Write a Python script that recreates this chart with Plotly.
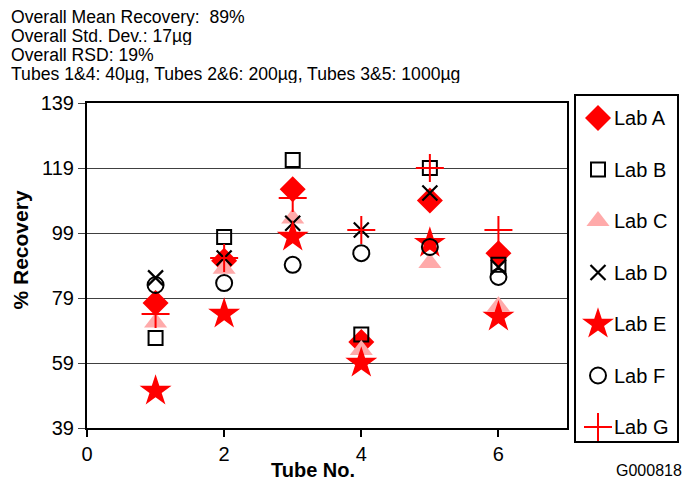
import plotly.graph_objects as go

tubes = [1, 2, 3, 4, 5, 6]
lab_a = [77.5, 90.5, 112.5, 65.5, 109.0, 92.8]
lab_b = [66.7, 97.8, 121.5, 67.8, 119.0, 89.2]
lab_c = [71.5, 88.0, 103.5, 63.0, 89.8, 76.5]
lab_d = [85.2, 91.3, 102.0, 99.9, 111.3, 88.5]
lab_e = [50.4, 74.1, 97.8, 59.0, 95.9, 73.2]
lab_f = [83.0, 83.6, 89.2, 92.8, 94.7, 85.5]
lab_g = [74.1, 91.3, 109.8, 99.9, 119.0, 99.9]
lab_names = ["Lab A", "Lab B", "Lab C", "Lab D", "Lab E", "Lab F", "Lab G"]
y_ticks = [39, 59, 79, 99, 119, 139]
x_ticks = [0, 2, 4, 6]
header_lines = [
    "Overall Mean Recovery:  89%",
    "Overall Std. Dev.: 17\u00b5g",
    "Overall RSD: 19%",
    "Tubes 1&4: 40\u00b5g, Tubes 2&6: 200\u00b5g, Tubes 3&5: 1000\u00b5g",
]

styles = [
    dict(symbol="diamond", size=20, color="#FF0000", line=dict(width=0)),
    dict(symbol="square-open", size=14, color="black", line=dict(width=2, color="black")),
    dict(symbol="triangle-up", size=20, color="#FFAAAA", line=dict(width=0)),
    dict(symbol="x-thin-open", size=15, color="black", line=dict(width=2.2, color="black")),
    dict(symbol="star", size=24, color="#FF0000", line=dict(width=0)),
    dict(symbol="circle-open", size=16, color="black", line=dict(width=2, color="black")),
    dict(symbol="cross-thin-open", size=20, color="#FF0000", line=dict(width=2, color="#FF0000")),
]
series = [lab_a, lab_b, lab_c, lab_d, lab_e, lab_f, lab_g]

# page geometry (pixels)
W, H = 694, 486
L, R, T, B = 87, 10, 103, 58
PW, PH = W - L - R, H - T - B
PLOT_RIGHT = 567
LEG_L, LEG_R, LEG_T, LEG_B = 575, 678, 95, 442
ROW0, ROW_STEP = 118, 51.5
KEY_X, TXT_X = 598, 612

def px_x(p):
    return (p - L) / PW

def px_y(p):
    return 1 - (p - T) / PH

fig = go.Figure()
for name, vals, st in zip(lab_names, series, styles):
    fig.add_trace(go.Scatter(
        x=tubes, y=vals, mode="markers", name=name,
        marker=st, cliponaxis=False, showlegend=False,
        xaxis="x", yaxis="y",
    ))

# legend built on an auxiliary axis pair (row index -> vertical position)
leg_w = LEG_R - LEG_L
for i, (name, st) in enumerate(zip(lab_names, styles)):
    fig.add_trace(go.Scatter(
        x=[(KEY_X - LEG_L) / leg_w], y=[i], mode="markers", name=name,
        marker=st, cliponaxis=False, showlegend=False, hoverinfo="skip",
        xaxis="x2", yaxis="y2",
    ))
    fig.add_annotation(
        text=name, xref="x2", yref="y2",
        x=(TXT_X - LEG_L) / leg_w, y=i, xanchor="left", yanchor="middle",
        showarrow=False, font=dict(size=20),
    )

fig.add_shape(
    type="rect", xref="paper", yref="paper",
    x0=px_x(LEG_L), x1=px_x(LEG_R), y0=px_y(LEG_B), y1=px_y(LEG_T),
    line=dict(color="black", width=2), fillcolor="rgba(0,0,0,0)", layer="below",
)

fig.update_layout(
    width=W, height=H,
    margin=dict(l=L, r=R, t=T, b=B, autoexpand=False),
    paper_bgcolor="white", plot_bgcolor="white",
    font=dict(family="Liberation Sans, Arial, sans-serif", color="black"),
    showlegend=False,
    xaxis=dict(
        domain=[0, px_x(PLOT_RIGHT)],
        range=[0, 7], tickvals=x_ticks, ticktext=[str(v) for v in x_ticks],
        showgrid=False, zeroline=False,
        showline=True, linecolor="black", linewidth=2, mirror=True,
        ticks="outside", ticklen=7, tickwidth=2, tickcolor="black",
        tickfont=dict(size=20),
    ),
    yaxis=dict(
        range=[39, 139], tickvals=y_ticks, ticktext=[str(v) for v in y_ticks],
        showgrid=True, gridcolor="#404040", gridwidth=1.4, zeroline=False,
        showline=True, linecolor="black", linewidth=2, mirror=True,
        ticks="outside", ticklen=7, tickwidth=1.4, tickcolor="#404040",
        tickfont=dict(size=20),
    ),
    xaxis2=dict(
        domain=[px_x(LEG_L), px_x(LEG_R)], range=[0, 1], visible=False,
        anchor="y2", fixedrange=True,
    ),
    yaxis2=dict(
        domain=[0, 1], anchor="x2", visible=False, fixedrange=True,
        range=[(T + PH - ROW0) / ROW_STEP, (T - ROW0) / ROW_STEP],
    ),
)

for i, line in enumerate(header_lines):
    fig.add_annotation(
        text=line, xref="paper", yref="paper",
        x=px_x(10), y=px_y(17 + i * 19),
        xanchor="left", yanchor="middle", height=18, borderpad=0,
        showarrow=False, font=dict(size=17.6), align="left",
    )

fig.add_annotation(
    text="<b>% Recovery</b>", xref="paper", yref="paper",
    x=px_x(19.5), y=px_y(250), textangle=-90, showarrow=False,
    font=dict(size=21), xanchor="center", yanchor="middle",
)
fig.add_annotation(
    text="<b>Tube No.</b>", xref="paper", yref="paper",
    x=px_x(313), y=px_y(470), showarrow=False,
    font=dict(size=20), xanchor="center", yanchor="middle",
)
fig.add_annotation(
    text="G000818", xref="paper", yref="paper",
    x=px_x(684), y=px_y(470), showarrow=False,
    font=dict(size=16), xanchor="right", yanchor="middle",
)

fig.write_html("out.html")
